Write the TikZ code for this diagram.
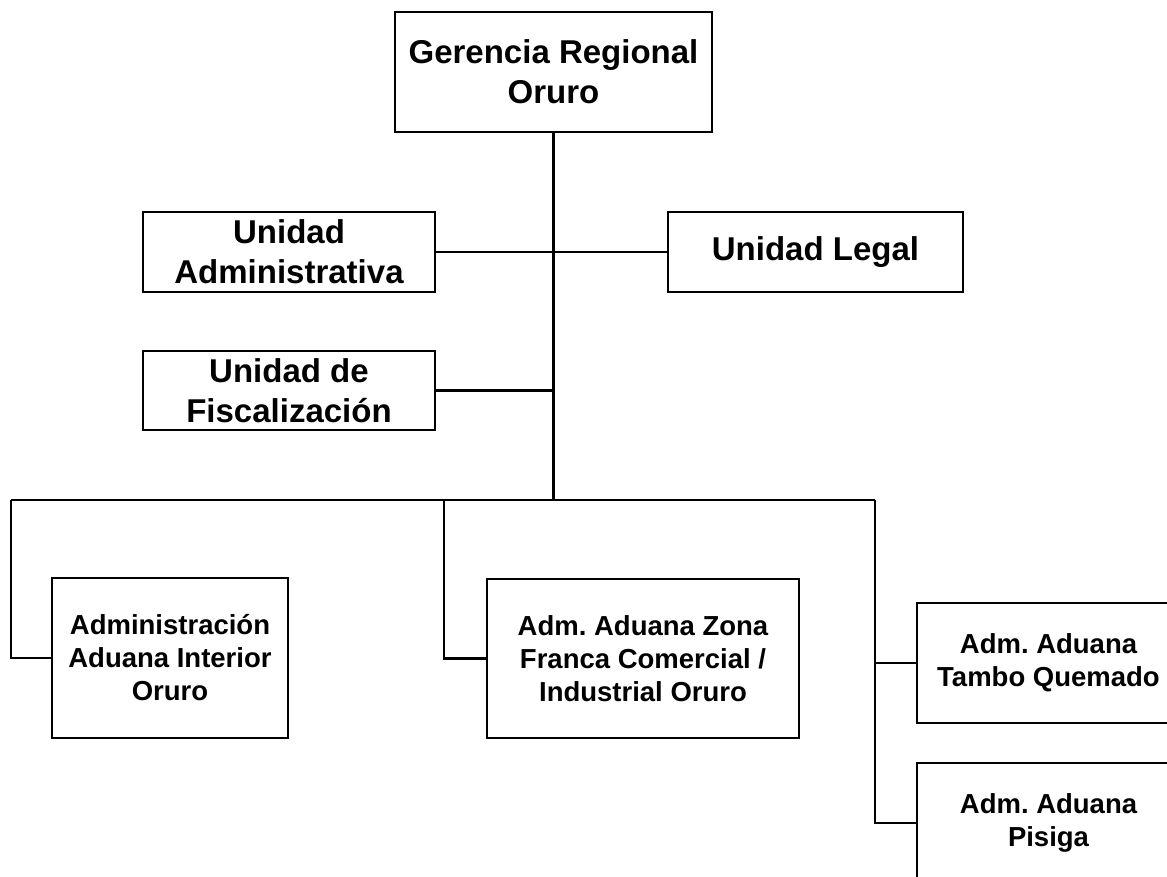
\documentclass[tikz,border=0pt]{standalone}
\usepackage{fontspec}
\setmainfont{Liberation Sans}
\frenchspacing
\begin{document}
\begin{tikzpicture}[x=1pt,y=-1pt,
  unit/.style={draw=black,line width=2.4pt,fill=white,inner sep=0pt,align=center,font=\bfseries\fontsize{33}{40}\selectfont},
  office/.style={draw=black,line width=2.4pt,fill=white,inner sep=0pt,align=center,font=\bfseries\fontsize{27.5}{33}\selectfont},
  link/.style={draw=black,line width=2.2pt}]
\useasboundingbox (0,0) rectangle (1167,877);
\fill[white] (0,0) rectangle (1167,877);
\clip (0,0) rectangle (1167,877);

% head office and staff units
\node[unit,minimum width=317pt,minimum height=120pt] (ger) at (553.5,72) {Gerencia Regional\\Oruro};
\node[unit,minimum width=292pt,minimum height=80pt] (adm) at (289,252) {Unidad\\Administrativa};
\node[unit,minimum width=295pt,minimum height=80pt] (legal) at (815.5,252) {Unidad Legal};
\node[unit,minimum width=292pt,minimum height=79pt] (fisc) at (289,390.5) {Unidad de\\Fiscalización};

% customs administrations
\node[office,minimum width=236pt,minimum height=160pt] (aio) at (170,658) {Administración\\Aduana Interior\\Oruro};
\node[office,minimum width=312pt,minimum height=159pt] (zf) at (643,658.5) {Adm. Aduana Zona\\Franca Comercial /\\Industrial Oruro};
\node[office,minimum width=263pt,minimum height=120pt] (tambo) at (1048.5,663) {Adm. Aduana\\Tambo Quemado};
\node[office,minimum width=263pt,minimum height=120pt] (pisiga) at (1048.5,823) {Adm. Aduana\\Pisiga};

% bus coordinates
\coordinate (busL) at (11,500);
\coordinate (busM) at (444,500);
\coordinate (busR) at (875,500);

% connectors
\draw[link] (ger.south) -- (ger.south |- busL);
\draw[link] (adm.east) -- (legal.west);
\draw[link] (fisc.east) -- (fisc.east -| ger.south);
\draw[link] (busL) -- (busR);
\draw[link] (busL) |- (aio.west);
\draw[link] (busM) |- (zf.west);
\draw[link] (busR) |- (pisiga.west);
\draw[link] (busR |- tambo.west) -- (tambo.west);
\end{tikzpicture}
\end{document}
